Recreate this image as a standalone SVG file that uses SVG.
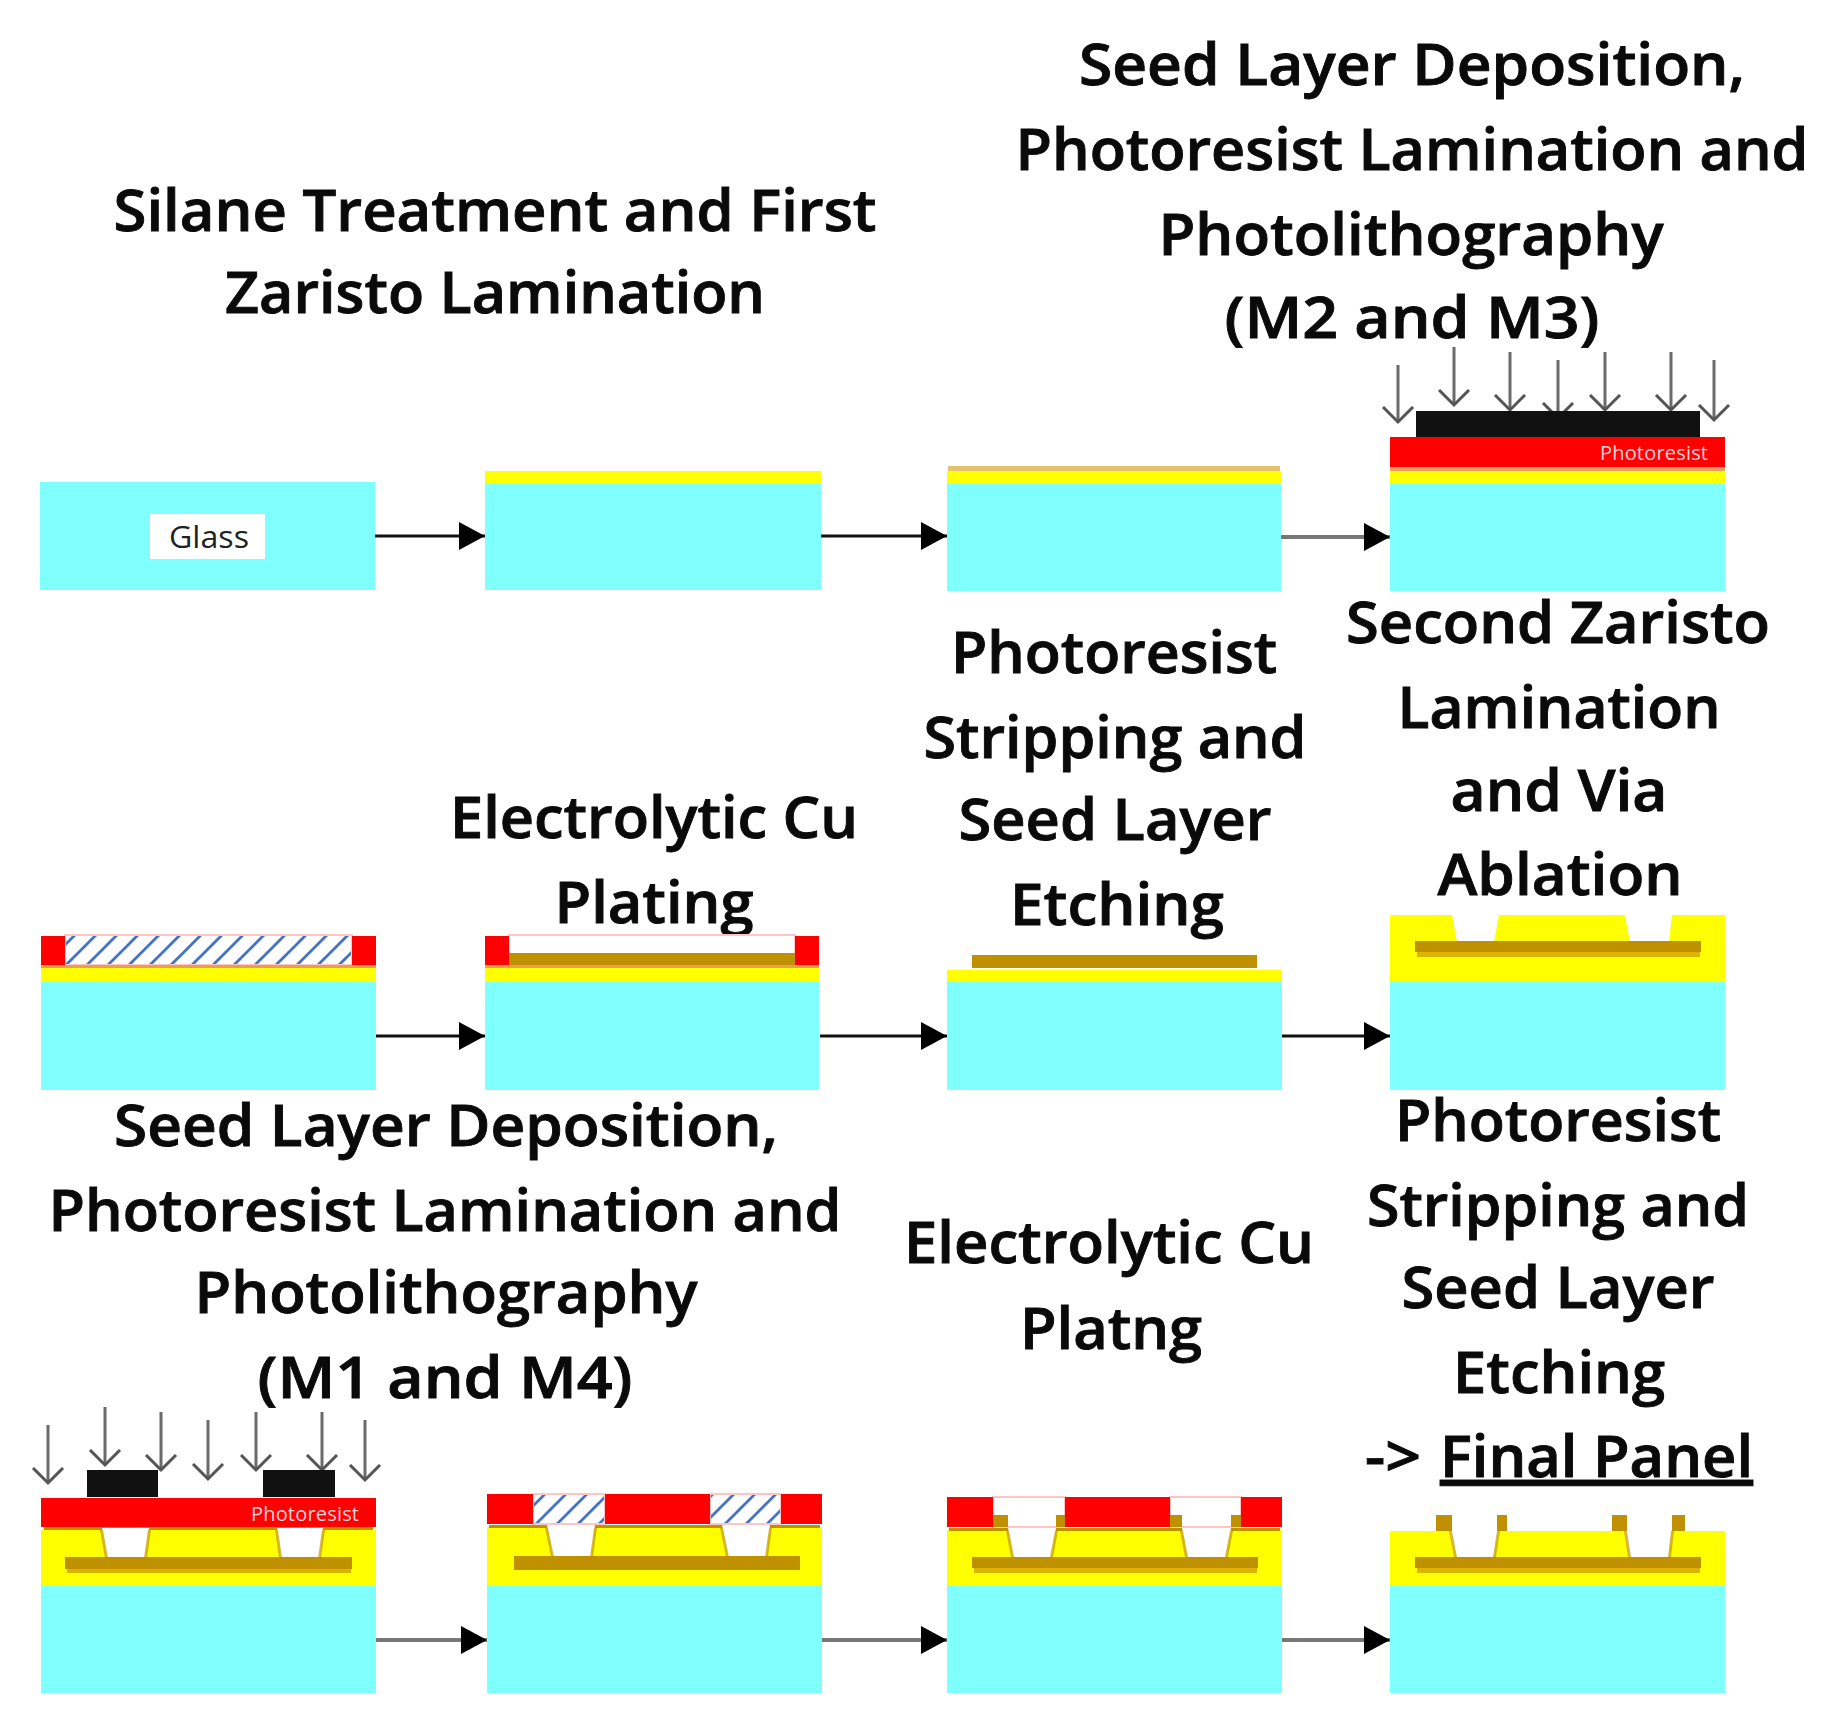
<svg xmlns="http://www.w3.org/2000/svg" width="1837" height="1717" viewBox="0 0 1837 1717">
<style>
.g{fill:#80ffff}.y{fill:#ff0}.r{fill:#f00}.c{fill:#bf9000}.k{fill:#111}.w{fill:#fff}.d{fill:#dcb400}
.v{fill:#bf9000;fill-opacity:.65}
.t{fill:#e3c26f}.h{fill:url(#hatch);stroke:#ffc4c4;stroke-width:2}.o{fill:#fff;stroke:#ffc4c4;stroke-width:2}
.l{font-family:"Open Sans","Noto Sans","Liberation Sans",sans-serif;font-weight:600;font-size:58px;fill:#0a0a0a;stroke:#0a0a0a;stroke-width:.9;text-anchor:middle}
.s{text-anchor:start}
.pr{font-family:"Open Sans","Liberation Sans",sans-serif;font-size:20px;fill:#ffd0d8}
.gl{font-family:"Open Sans","Liberation Sans",sans-serif;font-size:31px;fill:#222}
.a{stroke:#111;stroke-width:3;fill:none;marker-end:url(#tri)}
.b{stroke:#777;stroke-width:4;fill:none;marker-end:url(#tri)}
.e{stroke:#6a6a6a;stroke-width:3;fill:none;marker-end:url(#open)}
</style>
<defs>
<pattern id="hatch" width="21" height="21" patternUnits="userSpaceOnUse" patternTransform="translate(2 0)">
<rect width="21" height="21" fill="#fff"/>
<path d="M-3 3L3 -3M-3 24L24 -3M18 24L24 18" stroke="#4472c4" stroke-width="2.8" fill="none"/>
</pattern>
<marker id="tri" markerUnits="userSpaceOnUse" markerWidth="28" markerHeight="30" refX="26" refY="14" orient="auto"><path d="M0 0L26 14L0 28Z" fill="#000"/></marker>
<marker id="open" markerUnits="userSpaceOnUse" markerWidth="20" markerHeight="36" refX="16" refY="18" orient="auto"><path d="M1 3L16 18L1 33" stroke="#555" stroke-width="3" fill="none"/></marker>
</defs>
<rect width="1837" height="1717" fill="#fff"/>

<g id="labels">
<text class="l" x="1412" y="85" textLength="666" lengthAdjust="spacingAndGlyphs">Seed Layer Deposition,</text>
<text class="l" x="1412" y="170" textLength="793" lengthAdjust="spacingAndGlyphs">Photoresist Lamination and</text>
<text class="l" x="1411" y="255" textLength="505" lengthAdjust="spacingAndGlyphs">Photolithography</text>
<text class="l" x="1412" y="338" textLength="375" lengthAdjust="spacingAndGlyphs">(M2 and M3)</text>
<text class="l" x="495" y="231" textLength="763" lengthAdjust="spacingAndGlyphs">Silane Treatment and First</text>
<text class="l" x="495" y="313" textLength="540" lengthAdjust="spacingAndGlyphs">Zaristo Lamination</text>
<text class="l" x="1558" y="643" textLength="424" lengthAdjust="spacingAndGlyphs">Second Zaristo</text>
<text class="l" x="1559" y="728" textLength="323" lengthAdjust="spacingAndGlyphs">Lamination</text>
<text class="l" x="1559" y="811" textLength="217" lengthAdjust="spacingAndGlyphs">and Via</text>
<text class="l" x="1560" y="895" textLength="245" lengthAdjust="spacingAndGlyphs">Ablation</text>
<text class="l" x="1114" y="673" textLength="326" lengthAdjust="spacingAndGlyphs">Photoresist</text>
<text class="l" x="1115" y="758" textLength="383" lengthAdjust="spacingAndGlyphs">Stripping and</text>
<text class="l" x="1115" y="840" textLength="313" lengthAdjust="spacingAndGlyphs">Seed Layer</text>
<text class="l" x="1117" y="925" textLength="214" lengthAdjust="spacingAndGlyphs">Etching</text>
<text class="l" x="654" y="838" textLength="408" lengthAdjust="spacingAndGlyphs">Electrolytic Cu</text>
<text class="l" x="654" y="923" textLength="199" lengthAdjust="spacingAndGlyphs">Plating</text>
<text class="l" x="446" y="1146" textLength="664" lengthAdjust="spacingAndGlyphs">Seed Layer Deposition,</text>
<text class="l" x="445" y="1231" textLength="793" lengthAdjust="spacingAndGlyphs">Photoresist Lamination and</text>
<text class="l" x="446" y="1313" textLength="503" lengthAdjust="spacingAndGlyphs">Photolithography</text>
<text class="l" x="445" y="1398" textLength="375" lengthAdjust="spacingAndGlyphs">(M1 and M4)</text>
<text class="l" x="1109" y="1263" textLength="410" lengthAdjust="spacingAndGlyphs">Electrolytic Cu</text>
<text class="l" x="1111" y="1349" textLength="182" lengthAdjust="spacingAndGlyphs">Platng</text>
<text class="l" x="1558" y="1141" textLength="326" lengthAdjust="spacingAndGlyphs">Photoresist</text>
<text class="l" x="1558" y="1226" textLength="382" lengthAdjust="spacingAndGlyphs">Stripping and</text>
<text class="l" x="1558" y="1308" textLength="313" lengthAdjust="spacingAndGlyphs">Seed Layer</text>
<text class="l" x="1559" y="1393" textLength="212" lengthAdjust="spacingAndGlyphs">Etching</text>
<text class="l s" x="1365" y="1477" textLength="56" lengthAdjust="spacingAndGlyphs">-&gt;</text>
<text class="l s" x="1440" y="1477" textLength="313" lengthAdjust="spacingAndGlyphs" text-decoration="underline">Final Panel</text>
</g>

<g id="connectors">
<path class="a" d="M375 536H485"/>
<path class="a" d="M821 536H947"/>
<path class="b" d="M1281 537H1390"/>
<path class="a" d="M376 1036H485"/>
<path class="a" d="M820 1036H947"/>
<path class="a" d="M1282 1036H1390"/>
<path class="b" d="M376 1640H487"/>
<path class="b" d="M822 1640H947"/>
<path class="b" d="M1282 1640H1390"/>
</g>

<g id="panel-1-1">
<rect class="g" x="40" y="482" width="335" height="108"/>
<rect class="w" x="150" y="514" width="115" height="45"/>
<text class="gl" x="169" y="548" textLength="80" lengthAdjust="spacingAndGlyphs">Glass</text>
</g>
<g id="panel-1-2">
<rect class="y" x="485" y="471" width="336" height="13"/>
<rect class="g" x="485" y="484" width="336" height="106"/>
</g>
<g id="panel-1-3">
<rect class="t" x="948" y="466" width="332" height="5"/>
<rect class="y" x="947" y="471" width="334" height="13"/>
<rect class="g" x="947" y="484" width="334" height="107"/>
</g>
<g id="panel-1-4">
<path class="e" d="M1398 365V422"/><path class="e" d="M1454 347V405"/><path class="e" d="M1510 352V410"/><path class="e" d="M1558 360V418"/><path class="e" d="M1605 352V410"/><path class="e" d="M1671 352V410"/><path class="e" d="M1714 360V420"/>
<rect class="k" x="1416" y="411" width="284" height="26"/>
<rect class="r" x="1390" y="437" width="335" height="30"/>
<rect fill="#e8a060" x="1390" y="467" width="335" height="4"/>
<rect class="y" x="1390" y="471" width="335" height="13"/>
<rect class="g" x="1390" y="484" width="335" height="107"/>
<text class="pr" x="1600" y="460" textLength="108">Photoresist</text>
</g>

<g id="panel-2-1">
<rect class="h" x="65" y="935" width="287" height="30"/>
<rect class="r" x="41" y="936" width="24" height="29"/><rect class="r" x="352" y="936" width="24" height="29"/>
<rect fill="#e8a050" x="41" y="965" width="335" height="3"/>
<rect class="y" x="41" y="968" width="335" height="14"/>
<rect class="g" x="41" y="982" width="335" height="108"/>
</g>
<g id="panel-2-2">
<rect class="o" x="509" y="935" width="286" height="30"/>
<rect class="c" x="509" y="953" width="286" height="14"/>
<rect class="r" x="485" y="936" width="24" height="29"/><rect class="r" x="795" y="936" width="24" height="29"/>
<rect fill="#e8a050" x="485" y="965" width="334" height="3"/>
<rect class="y" x="485" y="968" width="334" height="14"/>
<rect class="g" x="485" y="982" width="334" height="108"/>
</g>
<g id="panel-2-3">
<rect class="c" x="972" y="955" width="285" height="13"/>
<rect class="y" x="947" y="970" width="335" height="12"/>
<rect class="g" x="947" y="982" width="335" height="108"/>
</g>
<g id="panel-2-4">
<rect class="y" x="1390" y="915" width="335" height="67"/>
<path class="w" d="M1452 915H1499L1494 942H1457Z"/><path class="w" d="M1625 915H1672L1669 942H1630Z"/>
<rect class="d" x="1417" y="950" width="283" height="7"/>
<rect class="c" x="1415" y="941" width="286" height="11"/>
<rect class="g" x="1390" y="982" width="335" height="108"/>
</g>

<g id="panel-3-1">
<path class="e" d="M48 1425V1483"/><path class="e" d="M105 1407V1465"/><path class="e" d="M161 1412V1470"/><path class="e" d="M208 1420V1479"/><path class="e" d="M256 1412V1470"/><path class="e" d="M322 1412V1470"/><path class="e" d="M365 1420V1480"/>
<rect class="k" x="87" y="1470" width="71" height="27"/><rect class="k" x="263" y="1470" width="72" height="27"/>
<rect class="r" x="41" y="1498" width="335" height="29"/>
<rect class="y" x="41" y="1530" width="335" height="56"/>
<rect class="c" x="44" y="1527" width="329" height="3"/>
<path class="w" d="M102 1528H149L145 1558H107Z"/><path class="w" d="M277 1528H323L320 1558H281Z"/>
<path class="v" d="M100 1530H103L108 1558H105Z"/><path class="v" d="M148 1530H151L147 1558H144Z"/><path class="v" d="M275 1530H278L282 1558H279Z"/><path class="v" d="M322 1530H325L321 1558H318Z"/>
<rect class="d" x="67" y="1566" width="284" height="7"/>
<rect class="c" x="65" y="1557" width="287" height="12"/>
<rect class="g" x="41" y="1586" width="335" height="107"/>
<text class="pr" x="251" y="1521" textLength="108">Photoresist</text>
</g>
<g id="panel-3-2">
<rect class="h" x="533" y="1494" width="72" height="30"/><rect class="h" x="710" y="1494" width="71" height="30"/>
<rect class="r" x="487" y="1494" width="46" height="30"/><rect class="r" x="605" y="1494" width="105" height="30"/><rect class="r" x="781" y="1494" width="41" height="30"/>
<rect class="y" x="487" y="1527" width="335" height="59"/>
<rect class="c" x="489" y="1525" width="331" height="3"/>
<path class="w" d="M547 1525H595L591 1557H553Z"/><path class="w" d="M722 1525H770L766 1557H728Z"/>
<path class="v" d="M545 1528H548L554 1557H551Z"/><path class="v" d="M594 1528H597L593 1557H590Z"/><path class="v" d="M720 1528H723L729 1557H726Z"/><path class="v" d="M769 1528H772L768 1557H765Z"/>
<rect class="c" x="514" y="1556" width="286" height="14"/>
<rect class="g" x="487" y="1586" width="335" height="107"/>
</g>
<g id="panel-3-3">
<rect class="o" x="993" y="1497" width="72" height="30"/><rect class="o" x="1170" y="1497" width="71" height="30"/>
<rect class="c" x="993" y="1515" width="15" height="12"/><rect class="c" x="1056" y="1515" width="9" height="12"/><rect class="c" x="1170" y="1515" width="12" height="12"/><rect class="c" x="1231" y="1515" width="10" height="12"/>
<rect class="r" x="947" y="1497" width="46" height="30"/><rect class="r" x="1065" y="1497" width="105" height="30"/><rect class="r" x="1241" y="1497" width="41" height="30"/>
<rect class="y" x="947" y="1530" width="335" height="56"/>
<rect class="c" x="949" y="1528" width="331" height="3"/>
<path class="w" d="M1008 1528H1056L1051 1557H1013Z"/><path class="w" d="M1182 1528H1231L1226 1557H1187Z"/>
<path class="v" d="M1006 1531H1009L1014 1557H1011Z"/><path class="v" d="M1055 1531H1058L1053 1557H1050Z"/><path class="v" d="M1180 1531H1183L1188 1557H1185Z"/><path class="v" d="M1230 1531H1233L1228 1557H1225Z"/>
<rect class="d" x="974" y="1566" width="283" height="7"/>
<rect class="c" x="972" y="1557" width="286" height="11"/>
<rect class="g" x="947" y="1586" width="335" height="107"/>
</g>
<g id="panel-3-4">
<rect class="c" x="1436" y="1515" width="16" height="16"/><rect class="c" x="1497" y="1515" width="10" height="16"/><rect class="c" x="1612" y="1515" width="15" height="16"/><rect class="c" x="1672" y="1515" width="13" height="16"/>
<rect class="y" x="1390" y="1531" width="335" height="55"/>
<path class="w" d="M1450 1531H1498L1494 1557H1456Z"/><path class="w" d="M1625 1531H1672L1669 1557H1629Z"/>
<path class="v" d="M1449 1531H1452L1457 1557H1454Z"/><path class="v" d="M1497 1531H1500L1496 1557H1493Z"/><path class="v" d="M1624 1531H1627L1631 1557H1628Z"/><path class="v" d="M1671 1531H1674L1671 1557H1668Z"/>
<rect class="d" x="1417" y="1566" width="283" height="7"/>
<rect class="c" x="1415" y="1557" width="286" height="11"/>
<rect class="g" x="1390" y="1586" width="335" height="107"/>
</g>
</svg>
